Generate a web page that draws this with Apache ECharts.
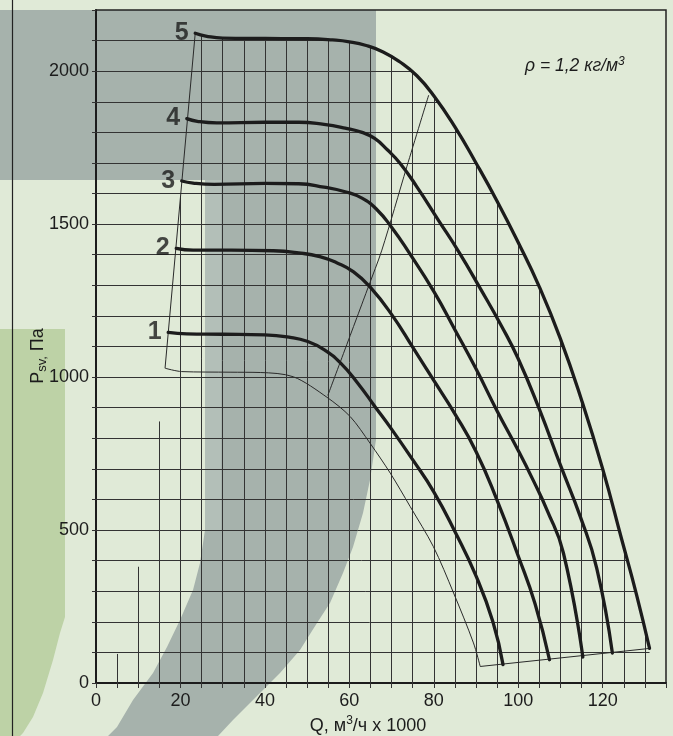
<!DOCTYPE html>
<html>
<head>
<meta charset="utf-8">
<script src="https://cdn.jsdelivr.net/npm/echarts@6/dist/echarts.min.js"></script>
<style>
  html, body { margin: 0; padding: 0; background: #e0ead7; }
  #chart { width: 673px; height: 736px; }
</style>
</head>
<body>
<div id="chart"></div>
<script>
// Fan characteristic: static pressure P_sv (Pa) against air flow Q (m3/h x 1000)
// for five fan sizes / speeds, with the working envelope outlined.

const curve1 = [[17.1,1146],[21.5,1141],[30,1140],[40,1138],[46,1130],[50,1117],[54,1090],[58,1045],[62,980],[66,905],[70,830],[75,730],[80,625],[85,495],[90,350],[94,200],[96.4,60]];
const curve2 = [[19,1421],[23,1415],[32,1415],[42,1413],[48,1406],[53,1394],[57,1374],[61,1344],[65,1293],[70,1205],[75,1098],[80,989],[85,880],[90,757],[95,597],[100,415],[104,258],[107.4,76]];
const curve3 = [[20.3,1641],[23,1634],[28,1630],[40,1633],[48,1632],[54,1621],[59,1606],[63,1585],[66.5,1548],[70,1490],[74,1410],[80,1280],[85,1155],[90,1027],[95,889],[100,760],[103.5,664],[106.8,566],[110.7,425],[115.3,85]];
const curve4 = [[21.5,1845],[24,1836],[28.6,1831],[40,1833],[48,1833],[54,1826],[59,1814],[63,1800],[66,1780],[69,1743],[72,1699],[76,1622],[81,1515],[86,1408],[91,1290],[96,1168],[100,1060],[105,895],[110,712],[114.7,544],[118.6,375],[122.3,98]];
const curve5 = [[23.5,2124],[26,2115],[30,2108],[40,2107],[50,2106],[56,2102],[60,2096],[64,2084],[68,2063],[72,2030],[76,1985],[80,1920],[85,1818],[90,1700],[95,1575],[100,1440],[105,1295],[110,1125],[115,925],[120,700],[124.5,470],[128,290],[131.1,113]];
const curveNames = ['1', '2', '3', '4', '5'];

// Working envelope: left edge, lower edge, closing line through curve ends
const envelopeLeft = [[16.35,1029],[23.5,2124]];
const envelopeLower = [[16.35,1029],[20.3,1018],[31.75,1016],[38.9,1015],[46.75,1001],[54.7,934],[60.2,871],[64.9,784],[69.7,686],[74.4,577],[79.9,446],[84.7,294],[89.4,131],[91,54]];
const envelopeEnd = [[91,54],[131.1,113]];
// Line of best operating points
const optimumLine = [[54.9,940],[64.5,1295],[67.7,1415],[73.6,1687],[78.8,1922]];
// Short grid stubs in the low-flow corner (top pressure of each)
const gridStubTops = [[5,95],[10,380],[15,855]];

const xLabels = [0, 20, 40, 60, 80, 100, 120];
const yLabels = [0, 500, 1000, 1500, 2000];
const xMax = 135, yMax = 2200, xStep = 5, yStep = 100;

const FONT = "'Liberation Sans Narrow', 'Arial Narrow', 'Liberation Sans', Arial, sans-serif";
const INK = '#1c1c1c';

function interp(pts, q) {
  for (let i = 0; i < pts.length - 1; i++) {
    const a = pts[i], b = pts[i + 1];
    if (q >= a[0] && q <= b[0]) return a[1] + (q - a[0]) / (b[0] - a[0]) * (b[1] - a[1]);
  }
  return q < pts[0][0] ? pts[0][1] : pts[pts.length - 1][1];
}
function flowAt(pts, p) {
  for (let i = pts.length - 1; i > 0; i--) {
    const a = pts[i - 1], b = pts[i];
    if ((a[1] - p) * (b[1] - p) <= 0 && a[1] !== b[1]) return a[0] + (p - a[1]) / (b[1] - a[1]) * (b[0] - a[0]);
  }
  return pts[pts.length - 1][0];
}
function gridTop(q) {
  const stub = gridStubTops.find(s => s[0] === q);
  if (stub) return stub[1];
  if (q < curve5[0][0]) return interp(envelopeLeft, q);
  return interp(curve5, q);
}

// Grid segments, clipped by the outer curve
const gridSegments = [];
for (let q = xStep; q < xMax; q += xStep) {
  if (q > curve5[curve5.length - 1][0]) continue;
  gridSegments.push({ coords: [[q, 0], [q, gridTop(q)]] });
}
for (let p = yStep; p < yMax; p += yStep) {
  gridSegments.push({ coords: [[0, p], [flowAt(curve5, p), p]] });
}

const curves = [curve1, curve2, curve3, curve4, curve5];

const chart = echarts.init(document.getElementById('chart'), null, { renderer: 'canvas' });

const thin = (data, smooth) => ({
  type: 'line', data: data, smooth: smooth, showSymbol: false, symbol: 'none', silent: true,
  lineStyle: { color: '#2a2a2a', width: 1 }, z: 3
});

chart.setOption({
  backgroundColor: '#e0ead7',
  animation: false,
  graphic: [
    // decorative backdrop
    { type: 'rect', z: -10, shape: { x: 0, y: 10, width: 376, height: 170 }, style: { fill: '#a6b2ac' } },
    { type: 'polygon', z: -10, shape: { points: [
        [205,180],[376,180],[376,440],[373,460],[370,480],[363,513],[353,547],[343,573],[330,603],[317,623],[300,650],[280,673],[260,693],[233,720],[218,736],
        [108,736],[117,727],[133,700],[153,673],[167,647],[180,620],[193,590],[200,563],[205,530]
      ] }, style: { fill: '#a6b2ac' } },
    { type: 'rect', z: -9, shape: { x: 205, y: 180, width: 16, height: 350 }, style: { fill: '#b3bfb8' } },
    { type: 'polygon', z: -10, shape: { points: [
        [0,329],[65,329],[65,617],[60,633],[53,660],[43,693],[33,717],[23,733],[20,736],[0,736]
      ] }, style: { fill: '#bdd2a6' } },
    { type: 'line', z: -5, shape: { x1: 12.5, y1: 0, x2: 12.5, y2: 736 }, style: { stroke: '#222', lineWidth: 1.2 } },
    // axis titles and note
    { type: 'text', z: 10, x: 38, y: 356, rotation: Math.PI / 2,
      style: { text: '{p|P}{s|sv,}{p| Па}', align: 'center', verticalAlign: 'middle',
        rich: { p: { fontSize: 18, fontFamily: FONT, fill: INK, lineHeight: 22 },
                s: { fontSize: 13, fontFamily: FONT, fill: INK, lineHeight: 12, verticalAlign: 'bottom' } } } },
    { type: 'text', z: 10, x: 368, y: 726,
      style: { text: '{a|Q, м}{u|3}{a|/ч x 1000}', align: 'center', verticalAlign: 'middle',
        rich: { a: { fontSize: 18, fontFamily: FONT, fill: INK, lineHeight: 22 },
                u: { fontSize: 12, fontFamily: FONT, fill: INK, lineHeight: 12, verticalAlign: 'top' } } } },
    { type: 'text', z: 10, x: 525, y: 66,
      style: { text: '{a|ρ = 1,2 кг/м}{u|3}', align: 'left', verticalAlign: 'middle',
        rich: { a: { fontSize: 17.5, fontStyle: 'italic', fontFamily: FONT, fill: INK, lineHeight: 20 },
                u: { fontSize: 12, fontStyle: 'italic', fontFamily: FONT, fill: INK, lineHeight: 12, verticalAlign: 'top' } } } }
  ],
  grid: { left: 96, right: 7, top: 10, bottom: 53, show: true, borderColor: '#222', borderWidth: 1.5, backgroundColor: 'transparent' },
  xAxis: {
    type: 'value', min: 0, max: xMax, interval: xStep,
    axisLine: { show: true, onZero: false, lineStyle: { color: INK, width: 2 } },
    axisTick: { show: true, length: 5, lineStyle: { color: '#333', width: 1 } },
    axisLabel: { margin: 9, fontSize: 18, fontFamily: FONT, color: INK,
      formatter: v => xLabels.includes(v) ? String(v) : '' },
    splitLine: { show: false }
  },
  yAxis: {
    type: 'value', min: 0, max: yMax, interval: yStep,
    axisLine: { show: true, onZero: false, lineStyle: { color: INK, width: 2 } },
    axisTick: { show: true, length: 4, lineStyle: { color: '#333', width: 1 } },
    axisLabel: { margin: 7, fontSize: 18, fontFamily: FONT, color: INK,
      formatter: v => yLabels.includes(v) ? String(v) : '' },
    splitLine: { show: false }
  },
  series: [
    { type: 'lines', coordinateSystem: 'cartesian2d', polyline: false, silent: true, z: 1,
      lineStyle: { color: '#333', width: 1, opacity: 1 }, data: gridSegments },
    thin(envelopeLeft, false),
    thin(envelopeLower, 0.3),
    thin(envelopeEnd, false),
    thin(optimumLine, 0.3),
    ...curves.map(c => ({
      type: 'line', data: c, smooth: 0.5, showSymbol: false, symbol: 'none', silent: true, z: 5,
      lineStyle: { color: INK, width: 3.3, cap: 'round' }
    })),
    { type: 'scatter', silent: true, z: 6, symbolSize: 1, itemStyle: { color: 'rgba(0,0,0,0)' },
      data: curves.map(c => c[0]),
      label: { show: true, position: 'left', distance: 6, fontSize: 25, fontWeight: 'bold',
        fontFamily: "'Liberation Sans', Arial, sans-serif", color: INK,
        formatter: p => curveNames[p.dataIndex] } }
  ]
});
</script>
</body>
</html>
